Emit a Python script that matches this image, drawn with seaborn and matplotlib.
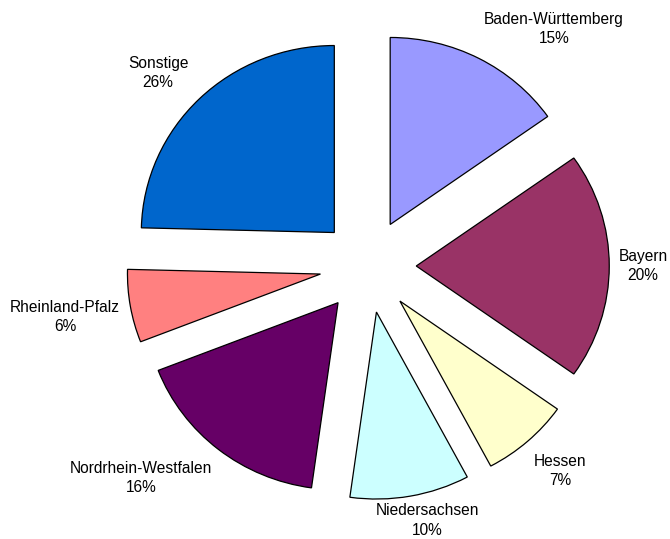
import matplotlib
matplotlib.use("Agg")
import matplotlib.pyplot as plt
import seaborn as sns

laender = ['Baden-Württemberg', 'Bayern', 'Hessen', 'Niedersachsen',
           'Nordrhein-Westfalen', 'Rheinland-Pfalz', 'Sonstige']
# percentages as printed in the labels
prozent = [15, 20, 7, 10, 16, 6, 26]
# slice sizes as drawn in the picture (read from the slice edges)
anteile = [15.2, 19.6, 7.4, 10.0, 16.9, 6.3, 24.6]
farben = ['#9999FF', '#993366', '#FFFFCC', '#CCFFFF', '#660066', '#FF8080', '#0066CC']

# label placement (pie centre = 0,0, radius = 1)
label_pos = [(0.964, 1.267), (1.425, 0.0), (0.995, -1.096), (0.306, -1.36),
             (-1.176, -1.134), (-1.570, -0.273), (-1.088, 1.032)]

sns.set_theme(style="white")
plt.rcParams['font.family'] = ['Liberation Sans', 'DejaVu Sans']

fig = plt.figure(figsize=(6.7, 5.39), dpi=100)
ax = fig.add_axes([0, 0, 1, 1])

ax.pie(anteile, colors=farben, startangle=90, counterclock=False,
       explode=[0.25] * len(anteile),
       wedgeprops=dict(edgecolor='black', linewidth=0.9))

for name, wert, (x, y) in zip(laender, prozent, label_pos):
    ax.text(x, y, f"{name}\n{wert}%", ha='center', va='center',
            fontsize=11.2, linespacing=1.4, color='black')

# pie is slightly wider than tall in the original
cx, cy, rx, ry = 368, 266, 193.0, 187.0
ax.set_xlim(-cx / rx, (670 - cx) / rx)
ax.set_ylim(-(539 - cy) / ry, cy / ry)
ax.set_aspect('auto')
ax.axis('off')

fig.savefig('out.png', dpi=100, facecolor='white')
